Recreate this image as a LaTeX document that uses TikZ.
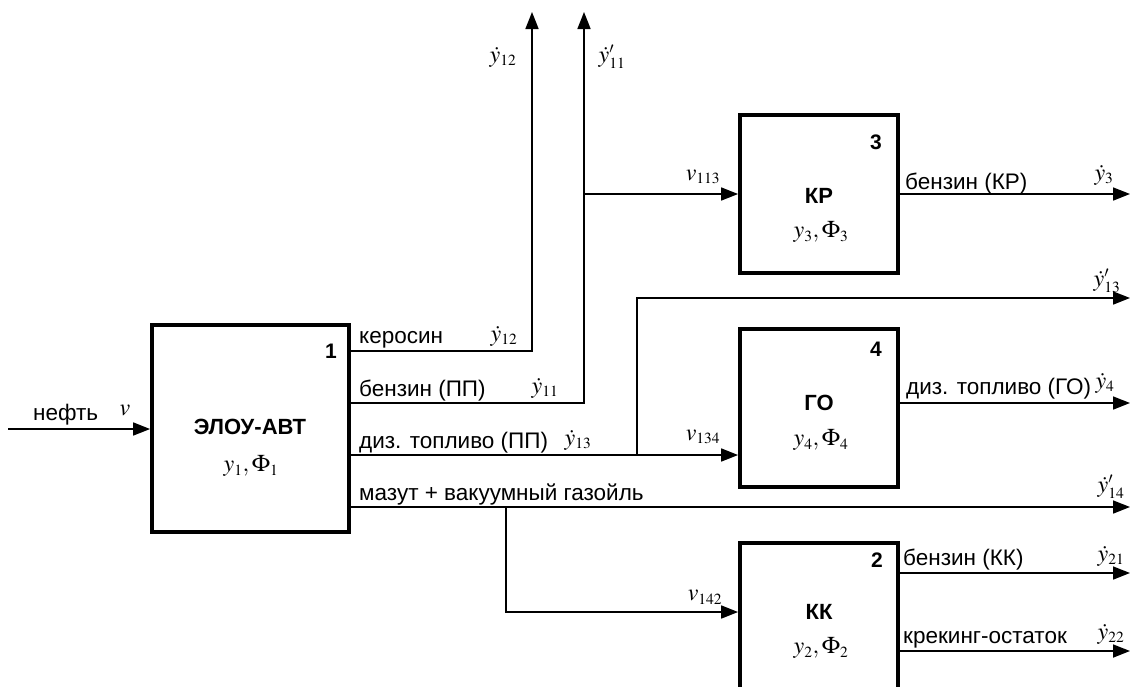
\documentclass[tikz,border=0pt]{standalone}
\usepackage{mathptmx}
\usepackage{fontspec}
\setmainfont{Liberation Sans}
\DeclareMathSizes{22.5}{24}{15.5}{12}
\usetikzlibrary{arrows.meta,positioning}

\tikzset{
  unit/.style={draw, line width=3.8pt, minimum width=158pt, minimum height=158pt, inner sep=0pt},
  pipe/.style={line width=1.7pt},
  flow/.style={pipe, -{Triangle[length=17pt,width=13pt]}},
  num/.style={font=\fontsize{21}{25}\selectfont\bfseries},
  title/.style={font=\fontsize{22}{26}\selectfont\bfseries},
  txt/.style={anchor=base west},
}

\begin{document}
\begin{tikzpicture}[x=1pt, y=-1pt, every node/.style={font=\fontsize{22.5}{27}\selectfont, inner sep=1pt}]
\useasboundingbox (0,0) rectangle (1131,686);

% --- blocks
\node[unit, minimum width=197pt, minimum height=207pt] (elou) at (250.5,428.5) {};
\node[unit] (kr) at (819,194) {};
\node[unit, below=52pt of kr] (go) {};
\node[unit, below=52pt of go] (kk) {};

% --- block texts
\node[num] (elou-n) at (331,351) {1};
\node[title] (elou-t) at (250,427) {ЭЛОУ-АВТ};
\node (elou-m) at (251,466) {$y_1,\Phi_1$};

\node[num] (kr-n) at (876,142) {3};
\node[title] (kr-t) at (819,196) {КР};
\node (kr-m) at (821,232) {$y_3,\Phi_3$};

\node[num] (go-n) at (876,349) {4};
\node[title] (go-t) at (819,403) {ГО};
\node (go-m) at (821,440) {$y_4,\Phi_4$};

\node[num] (kk-n) at (877,560) {2};
\node[title] (kk-t) at (819,612) {КК};
\node (kk-m) at (821,648) {$y_2,\Phi_2$};

% --- points of the flows
\coordinate (oilStart) at (8,429);
\coordinate (kerTurn) at (532,351);
\coordinate (kerEnd) at (532,12);
\coordinate (benTurn) at (584,403);
\coordinate (benEnd) at (584,12);
\coordinate (benSplit) at (584,194);
\coordinate (dizSplit) at (637,455);
\coordinate (dizTurn) at (637,298);
\coordinate (dizEnd) at (1130,298);
\coordinate (mazSplit) at (506,507);
\coordinate (mazTurn) at (506,612);
\coordinate (mazEnd) at (1130,507);
\coordinate (krEnd) at (1130,194);
\coordinate (goEnd) at (1130,403);
\coordinate (kkEndA) at (1130,573);
\coordinate (kkEndB) at (1130,651);

% --- flows
\draw[flow] (oilStart) -- (elou.west |- oilStart);
\draw[flow] (elou.east |- kerTurn) -- (kerTurn) -- (kerEnd);
\draw[flow] (elou.east |- benTurn) -- (benTurn) -- (benEnd);
\draw[flow] (benSplit) -- (kr.west |- benSplit);
\draw[flow] (elou.east |- dizSplit) -- (go.west |- dizSplit);
\draw[flow] (dizSplit) -- (dizTurn) -- (dizEnd);
\draw[flow] (elou.east |- mazSplit) -- (mazEnd);
\draw[flow] (mazSplit) -- (mazTurn) -- (kk.west |- mazTurn);
\draw[flow] (kr.east |- krEnd) -- (krEnd);
\draw[flow] (go.east |- goEnd) -- (goEnd);
\draw[flow] (kk.east |- kkEndA) -- (kkEndA);
\draw[flow] (kk.east |- kkEndB) -- (kkEndB);

% --- flow labels
\node[txt] (oil-l) at (32,420) {нефть};
\node (oil-v) at (125,410) {$v$};

\node[txt] (ker-l) at (358,343) {керосин};
\node (ker-y) at (504,336) {$\dot{y}_{12}$};
\node[txt] (ben-l) at (358,396) {бензин (ПП)};
\node (ben-y) at (545,388) {$\dot{y}_{11}$};
\node[txt] (diz-l) at (358,448) {диз. топливо (ПП)};
\node (diz-y) at (578,440) {$\dot{y}_{13}$};
\node[txt] (maz-l) at (358,500) {мазут + вакуумный газойль};

\node (ker-top) at (503,57) {$\dot{y}_{12}$};
\node (ben-top) at (612,57) {$\dot{y}'_{11}$};
\node (v113) at (703,177) {$v_{113}$};
\node (v134) at (703,437) {$v_{134}$};
\node (v142) at (705,597) {$v_{142}$};

\node[txt] (kr-l) at (904,189) {бензин (КР)};
\node (kr-y) at (1104,175) {$\dot{y}_3$};
\node (diz-y2) at (1107,281) {$\dot{y}'_{13}$};
\node[txt] (go-l) at (905,394) {диз. топливо (ГО)};
\node (go-y) at (1105,383) {$\dot{y}_4$};
\node (maz-y) at (1111,487) {$\dot{y}'_{14}$};
\node[txt] (kk-l1) at (902,565) {бензин (КК)};
\node (kk-y1) at (1111,556) {$\dot{y}_{21}$};
\node[txt] (kk-l2) at (902,643) {крекинг-остаток};
\node (kk-y2) at (1111,634) {$\dot{y}_{22}$};
\end{tikzpicture}
\end{document}
